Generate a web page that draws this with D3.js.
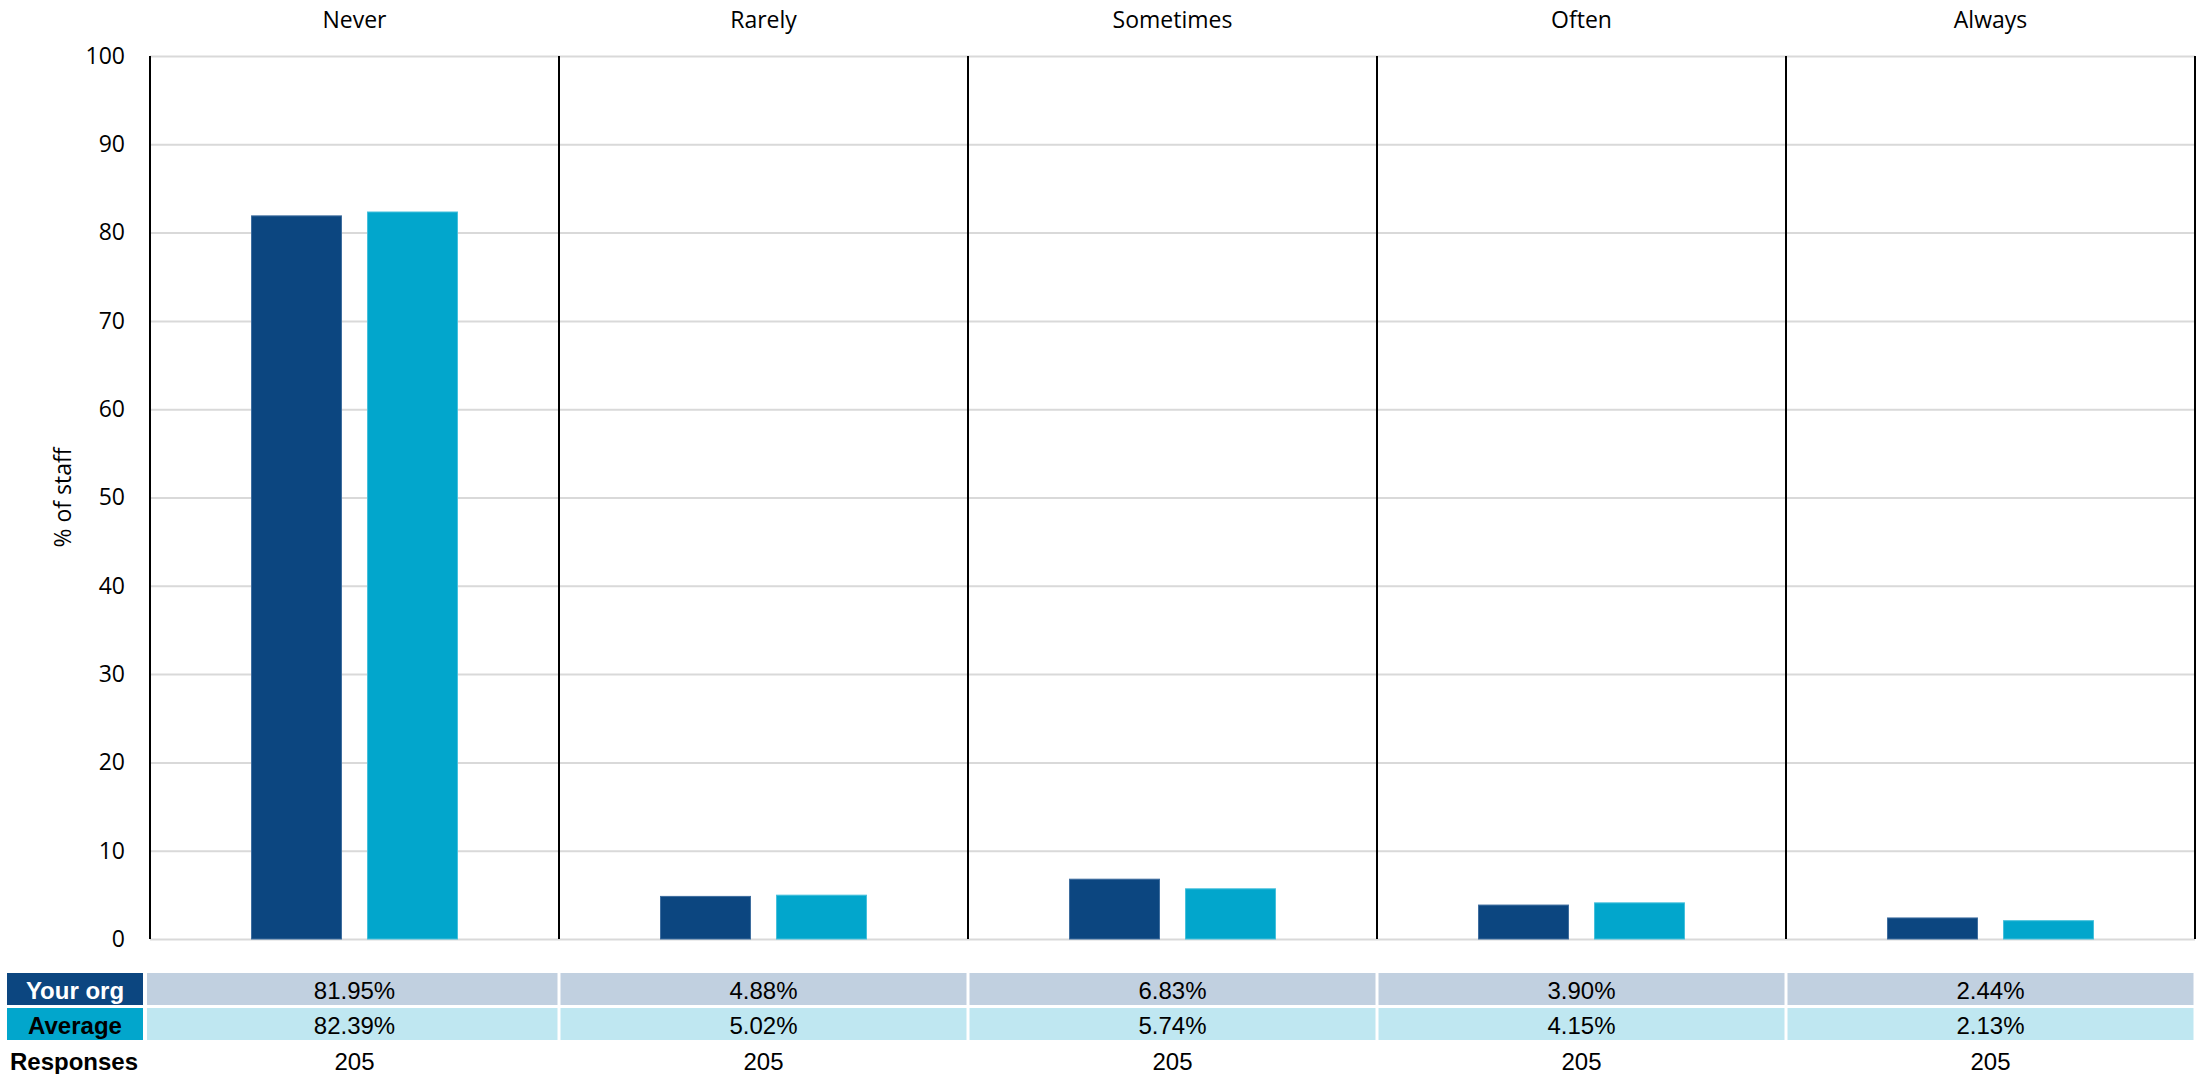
<!DOCTYPE html>
<html>
<head>
<meta charset="utf-8">
<script src="https://cdn.jsdelivr.net/npm/d3@7"></script>
<style>
  html, body { margin: 0; padding: 0; background: #ffffff; }
  svg { display: block; }
</style>
</head>
<body>
<svg id="chart" width="2208" height="1074"></svg>
<script>
// Frequency categories and series values (% of staff)
const categories = ["Never", "Rarely", "Sometimes", "Often", "Always"];
const seriesNames = ["Your org", "Average"];
const yourOrg = [81.95, 4.88, 6.83, 3.90, 2.44];
const average = [82.39, 5.02, 5.74, 4.15, 2.13];
const responses = [205, 205, 205, 205, 205];
const yTicks = [0, 10, 20, 30, 40, 50, 60, 70, 80, 90, 100];
const yLabel = "% of staff";
const responsesLabel = "Responses";

const seriesValues = [yourOrg, average];
const barFill = ["#0c4680", "#02a6cc"];
const barEdge = ["#3d6c9e", "#45c0dc"];
const labelFill = ["#0c4680", "#02a6cc"];
const labelText = ["#ffffff", "#000000"];
const rowFill = ["#c1d0e0", "#bfe7f1"];

const svg = d3.select("#chart");
const plot = { left: 150, right: 2195, top: 56, bottom: 939 };
const chartFont = "'Open Sans', 'DejaVu Sans', sans-serif";
const tableFont = "'Liberation Sans', Arial, sans-serif";

const x = d3.scaleBand().domain(categories).range([plot.left, plot.right]).padding(0);
const xInner = d3.scaleBand().domain(seriesNames).range([0, x.bandwidth()])
  .paddingInner(0.216).paddingOuter(0.871);
const y = d3.scaleLinear().domain([0, 100]).range([plot.bottom, plot.top]);

// Horizontal gridlines with y tick labels
const yAxis = svg.append("g")
  .attr("transform", `translate(${plot.left},0)`)
  .call(d3.axisLeft(y).tickValues(yTicks).tickSize(-(plot.right - plot.left)).tickPadding(25));
yAxis.select(".domain").remove();
yAxis.selectAll(".tick line").attr("stroke", "#d9d9d9").attr("stroke-width", 2);
yAxis.selectAll(".tick text")
  .attr("font-family", chartFont).attr("font-size", 23).attr("fill", "#000");

// Y axis title
svg.append("text")
  .attr("transform", `translate(62,${(plot.top + plot.bottom) / 2}) rotate(-90)`)
  .attr("text-anchor", "middle").attr("dominant-baseline", "central")
  .attr("font-family", chartFont).attr("font-size", 23)
  .text(yLabel);

// Category titles above the plot
svg.append("g").selectAll("text").data(categories).join("text")
  .attr("x", d => x(d) + x.bandwidth() / 2)
  .attr("y", 19)
  .attr("text-anchor", "middle").attr("dominant-baseline", "central")
  .attr("font-family", chartFont).attr("font-size", 23)
  .text(d => d);

// Bars
const groups = svg.append("g").selectAll("g").data(categories).join("g")
  .attr("transform", d => `translate(${x(d)},0)`);
groups.selectAll("rect")
  .data((d, i) => seriesNames.map((s, k) => ({ s, k, v: seriesValues[k][i] })))
  .join("rect")
  .attr("x", d => xInner(d.s) + 0.5)
  .attr("width", xInner.bandwidth() - 1)
  .attr("y", d => y(d.v) + 0.5)
  .attr("height", d => y(0) - y(d.v) - 0.5)
  .attr("fill", d => barFill[d.k])
  .attr("stroke", d => barEdge[d.k])
  .attr("stroke-width", 1);

// Black category dividers (including left and right edges)
const edges = categories.map(c => x(c)).concat([plot.right]);
svg.append("g").selectAll("line").data(edges).join("line")
  .attr("x1", d => d).attr("x2", d => d)
  .attr("y1", plot.top).attr("y2", plot.bottom)
  .attr("stroke", "#000").attr("stroke-width", 2);

// Data table beneath the chart
const rowTop = [973, 1008];
const rowH = 32;
const table = svg.append("g");
seriesNames.forEach((name, k) => {
  table.append("rect")
    .attr("x", 7).attr("y", rowTop[k]).attr("width", 136).attr("height", rowH)
    .attr("fill", labelFill[k]);
  table.append("text")
    .attr("x", 75).attr("y", rowTop[k] + rowH / 2 + 1)
    .attr("text-anchor", "middle").attr("dominant-baseline", "central")
    .attr("font-family", tableFont).attr("font-weight", "bold").attr("font-size", 24)
    .attr("fill", labelText[k])
    .text(name);
  table.append("g").selectAll("rect").data(categories).join("rect")
    .attr("x", (d, i) => (i === 0 ? 147 : x(d) + 1.5))
    .attr("y", rowTop[k])
    .attr("width", (d, i) => (i === 0 ? x(d) + x.bandwidth() - 1.5 - 147 : x.bandwidth() - 3))
    .attr("height", rowH)
    .attr("fill", rowFill[k]);
  table.append("g").selectAll("text").data(categories).join("text")
    .attr("x", d => x(d) + x.bandwidth() / 2)
    .attr("y", rowTop[k] + rowH / 2 + 1)
    .attr("text-anchor", "middle").attr("dominant-baseline", "central")
    .attr("font-family", tableFont).attr("font-size", 24).attr("fill", "#000")
    .text((d, i) => seriesValues[k][i].toFixed(2) + "%");
});

// Responses row
table.append("text")
  .attr("x", 10).attr("y", 1061)
  .attr("dominant-baseline", "central")
  .attr("font-family", tableFont).attr("font-weight", "bold").attr("font-size", 24)
  .text(responsesLabel);
table.append("g").selectAll("text").data(categories).join("text")
  .attr("x", d => x(d) + x.bandwidth() / 2)
  .attr("y", 1061)
  .attr("text-anchor", "middle").attr("dominant-baseline", "central")
  .attr("font-family", tableFont).attr("font-size", 24).attr("fill", "#000")
  .text((d, i) => responses[i]);
</script>
</body>
</html>
